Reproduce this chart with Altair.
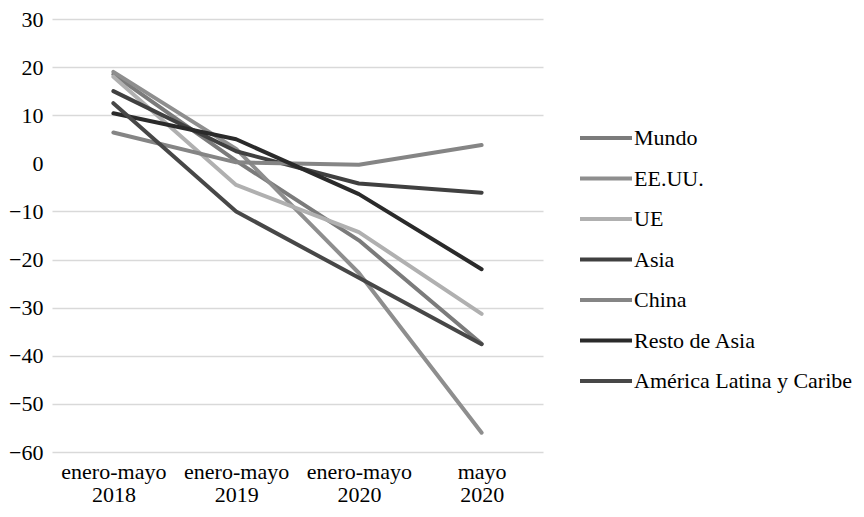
import altair as alt
import pandas as pd

periods = ["enero-mayo 2018", "enero-mayo 2019", "enero-mayo 2020", "mayo 2020"]
series = ["Mundo", "EE.UU.", "UE", "Asia", "China", "Resto de Asia", "América Latina y Caribe"]
mundo = [18.5, 0.5, -16.0, -37.5]
eeuu = [19.0, 3.0, -22.8, -56.0]
ue = [18.0, -4.5, -14.3, -31.3]
asia = [15.0, 2.5, -4.2, -6.1]
china = [6.4, 0.2, -0.3, 3.8]
resto = [10.4, 5.0, -6.4, -22.0]
alc = [12.5, -10.0, -23.8, -37.6]
colors = ["#7b7b7b", "#8e8e8e", "#b0b0b0", "#404040", "#858585", "#2a2a2a", "#474747"]
y_ticks = [30, 20, 10, 0, -10, -20, -30, -40, -50, -60]

rows = []
for name, vals in zip(series, [mundo, eeuu, ue, asia, china, resto, alc]):
    for p, v in zip(periods, vals):
        rows.append({"serie": name, "periodo": p, "valor": v})
df = pd.DataFrame(rows)

FONT = "Liberation Serif"

chart = alt.Chart(df).mark_line(strokeWidth=4, strokeJoin="round", strokeCap="round").encode(
    x=alt.X(
        "periodo:N",
        sort=periods,
        title=None,
        scale=alt.Scale(padding=0.5),
        axis=alt.Axis(
            labelAngle=0,
            labelExpr="split(datum.label, ' ')",
            labelFont=FONT,
            labelFontSize=22,
            labelColor="#000",
            labelLineHeight=23,
            labelPadding=9,
            ticks=False,
            domain=False,
            grid=False,
        ),
    ),
    y=alt.Y(
        "valor:Q",
        title=None,
        scale=alt.Scale(domain=[-60, 30], nice=False),
        axis=alt.Axis(
            values=y_ticks,
            labelFont=FONT,
            labelFontSize=22,
            labelColor="#000",
            labelPadding=9,
            ticks=False,
            domain=False,
            grid=True,
            gridColor={"condition": {"test": "datum.value === 0", "value": "transparent"}, "value": "#d9d9d9"},
            gridWidth=1.5,
        ),
    ),
    color=alt.Color(
        "serie:N",
        sort=series,
        scale=alt.Scale(domain=series, range=colors),
        legend=alt.Legend(
            title=None,
            orient="none",
            legendX=526,
            legendY=91,
            symbolType="stroke",
            symbolSize=2704,
            symbolStrokeWidth=4,
            labelFont=FONT,
            labelFontSize=22,
            labelColor="#000",
            labelOffset=0,
            rowPadding=1.5,
            labelLimit=400,
        ),
    ),
).properties(
    width=491,
    height=433,
    autosize=alt.AutoSizeParams(type="none"),
    padding={"left": 44, "top": 11, "right": 313, "bottom": 57},
).configure_view(stroke=None)

chart.save("out.html", embed_options={"renderer": "svg", "actions": False})
